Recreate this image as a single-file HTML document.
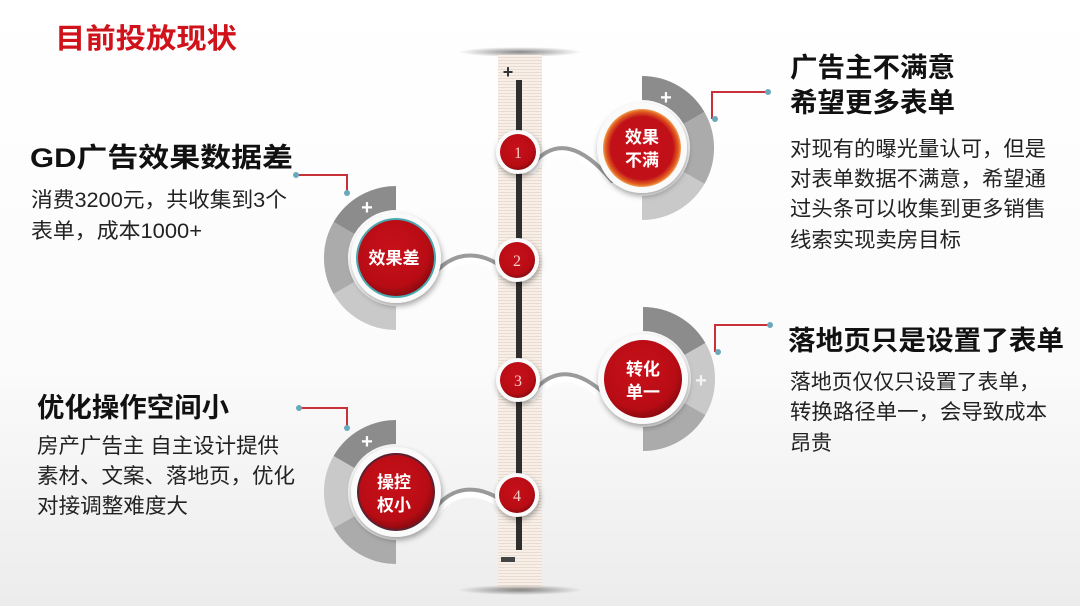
<!DOCTYPE html>
<html><head><meta charset="utf-8"><style>
html,body{margin:0;padding:0;width:1080px;height:606px;overflow:hidden;}
svg{display:block;font-family:"Liberation Sans","Noto Sans CJK SC",sans-serif;}
</style></head><body>
<svg width="1080" height="606" viewBox="0 0 1080 606" xmlns="http://www.w3.org/2000/svg">
<defs>
<linearGradient id="bg" x1="0" y1="0" x2="0" y2="1">
<stop offset="0" stop-color="#ffffff"/><stop offset="0.6" stop-color="#fbfbfb"/><stop offset="1" stop-color="#ececec"/>
</linearGradient>
<pattern id="stripe" width="4" height="3" patternUnits="userSpaceOnUse">
<rect width="4" height="3" fill="#f7efe8"/><rect width="4" height="1" fill="#e9ddd2"/>
</pattern>
<radialGradient id="red" cx="0.45" cy="0.4" r="0.6">
<stop offset="0" stop-color="#c8101a"/><stop offset="0.8" stop-color="#b80c14"/><stop offset="1" stop-color="#8e0a10"/>
</radialGradient>
<radialGradient id="redO" cx="0.5" cy="0.5" r="0.5">
<stop offset="0" stop-color="#c8101a"/><stop offset="0.8" stop-color="#c01018"/><stop offset="0.93" stop-color="#e05a20"/><stop offset="1" stop-color="#f0a050"/>
</radialGradient>
<radialGradient id="sh" cx="0.5" cy="0.5" r="0.5">
<stop offset="0" stop-color="#555" stop-opacity="0.7"/><stop offset="1" stop-color="#555" stop-opacity="0"/>
</radialGradient>
<filter id="ds" x="-30%" y="-30%" width="160%" height="160%"><feDropShadow dx="1" dy="3" stdDeviation="3" flood-color="#000" flood-opacity="0.35"/></filter>
</defs>
<rect width="1080" height="606" fill="url(#bg)"/>

<text x="55" y="48" font-size="28" font-weight="bold" fill="#d0121b" textLength="182" lengthAdjust="spacingAndGlyphs">目前投放现状</text>

<!-- bar -->
<ellipse cx="520" cy="52" rx="62" ry="5" fill="url(#sh)"/>
<rect x="498" y="55" width="44" height="535" fill="url(#stripe)"/>
<ellipse cx="520" cy="590" rx="62" ry="5" fill="url(#sh)"/>
<rect x="516" y="80" width="6" height="470" fill="#2e2e2e"/>
<text x="508" y="78" font-size="18" font-weight="bold" fill="#333" text-anchor="middle">+</text>
<rect x="501" y="557" width="14" height="5" fill="#444"/>

<!-- connectors -->
<g fill="none" stroke-linecap="round">
<g stroke="#fff" stroke-width="10">
<path d="M532 168 C555 140,582 148,612 184"/>
<path d="M425 290 C448 250,482 252,507 274"/>
<path d="M532 396 C556 366,584 374,614 406"/>
<path d="M428 522 C450 483,482 488,507 507"/>
</g>
<g stroke="#9a9a9a" stroke-width="4">
<path d="M532 165 C555 137,582 145,612 181"/>
<path d="M425 287 C448 247,482 249,507 271"/>
<path d="M532 393 C556 363,584 371,614 403"/>
<path d="M428 519 C450 480,482 485,507 504"/>
</g>
</g>

<!-- rings -->
<g fill="none" stroke-width="24">
<path d="M642 88 A60 60 0 0 1 694 118" stroke="#8c8c8c"/>
<path d="M694 118 A60 60 0 0 1 694 178" stroke="#ababab"/>
<path d="M694 178 A60 60 0 0 1 642 208" stroke="#c9c9c9"/>
<path d="M396 318 A60 60 0 0 1 344 288" stroke="#c9c9c9"/>
<path d="M344 288 A60 60 0 0 1 344 228" stroke="#ababab"/>
<path d="M344 228 A60 60 0 0 1 396 198" stroke="#8c8c8c"/>
<path d="M643 319 A60 60 0 0 1 695 349" stroke="#8c8c8c"/>
<path d="M695 349 A60 60 0 0 1 695 409" stroke="#c9c9c9"/>
<path d="M695 409 A60 60 0 0 1 643 439" stroke="#ababab"/>
<path d="M396 552 A60 60 0 0 1 344 522" stroke="#ababab"/>
<path d="M344 522 A60 60 0 0 1 344 462" stroke="#c9c9c9"/>
<path d="M344 462 A60 60 0 0 1 396 432" stroke="#8c8c8c"/>
</g>
<g fill="#fff" font-size="20" font-weight="bold" text-anchor="middle">
<text x="666" y="104">+</text>
<text x="367" y="214">+</text>
<text x="701" y="387" fill="#f4f4f4">+</text>
<text x="367" y="448">+</text>
</g>

<!-- big circles -->
<g filter="url(#ds)">
<circle cx="642" cy="148" r="45" fill="#fafafa"/>
<circle cx="396" cy="258" r="45" fill="#fafafa"/>
<circle cx="643" cy="379" r="45" fill="#fafafa"/>
<circle cx="396" cy="492" r="45" fill="#fafafa"/>
</g>
<circle cx="642" cy="148" r="39" fill="url(#redO)"/>
<circle cx="396" cy="258" r="40" fill="#4aa8b0"/>
<circle cx="396" cy="258" r="38" fill="url(#red)"/>
<circle cx="643" cy="379" r="39" fill="url(#red)"/>
<circle cx="396" cy="492" r="39" fill="#5a2030"/>
<circle cx="396" cy="492" r="37" fill="url(#red)"/>
<g fill="#fff" font-size="17" font-weight="bold" text-anchor="middle">
<text x="642" y="143">效果</text><text x="642" y="166">不满</text>
<text x="394" y="264">效果差</text>
<text x="643" y="375">转化</text><text x="643" y="398">单一</text>
<text x="394" y="488">操控</text><text x="394" y="511">权小</text>
</g>

<!-- small circles -->
<g filter="url(#ds)">
<circle cx="518" cy="152" r="22" fill="#fafafa"/>
<circle cx="517" cy="260" r="22" fill="#fafafa"/>
<circle cx="518" cy="380" r="22" fill="#fafafa"/>
<circle cx="517" cy="495" r="22" fill="#fafafa"/>
</g>
<g fill="url(#red)">
<circle cx="518" cy="152" r="18"/><circle cx="517" cy="260" r="18"/>
<circle cx="518" cy="380" r="18"/><circle cx="517" cy="495" r="18"/>
</g>
<g fill="#f3d0c8" font-size="16" text-anchor="middle" font-family="Liberation Serif,serif">
<text x="518" y="158">1</text><text x="517" y="266">2</text>
<text x="518" y="386">3</text><text x="517" y="501">4</text>
</g>

<!-- brackets -->
<g fill="none" stroke="#c8303a" stroke-width="2">
<path d="M296 175 H347 V193"/>
<path d="M299 408 H347 V428"/>
<path d="M768 92 H712 V119"/>
<path d="M770 325 H715 V352"/>
</g>
<g fill="#6aa8bc">
<circle cx="296" cy="175" r="3"/><circle cx="347" cy="193" r="3"/>
<circle cx="299" cy="408" r="3"/><circle cx="347" cy="428" r="3"/>
<circle cx="768" cy="92" r="3"/><circle cx="715" cy="119" r="3"/>
<circle cx="770" cy="325" r="3"/><circle cx="718" cy="352" r="3"/>
</g>

<!-- texts -->
<g fill="#111" font-weight="bold" font-size="27" lengthAdjust="spacingAndGlyphs">
<text x="30" y="167" textLength="263" lengthAdjust="spacingAndGlyphs">GD广告效果数据差</text>
<text x="37" y="417" textLength="192" lengthAdjust="spacingAndGlyphs">优化操作空间小</text>
<text x="790" y="77" textLength="165" lengthAdjust="spacingAndGlyphs">广告主不满意</text>
<text x="790" y="112" textLength="165" lengthAdjust="spacingAndGlyphs">希望更多表单</text>
<text x="788" y="350" textLength="276" lengthAdjust="spacingAndGlyphs">落地页只是设置了表单</text>
</g>
<g fill="#222" font-size="21">
<text x="31" y="207" textLength="256" lengthAdjust="spacingAndGlyphs">消费3200元，共收集到3个</text>
<text x="31" y="238" textLength="171" lengthAdjust="spacingAndGlyphs">表单，成本1000+</text>
<text x="37" y="453" textLength="242" lengthAdjust="spacingAndGlyphs">房产广告主 自主设计提供</text>
<text x="37" y="483" textLength="258" lengthAdjust="spacingAndGlyphs">素材、文案、落地页，优化</text>
<text x="37" y="513" textLength="151" lengthAdjust="spacingAndGlyphs">对接调整难度大</text>
<text x="790" y="156" textLength="256" lengthAdjust="spacingAndGlyphs">对现有的曝光量认可，但是</text>
<text x="790" y="186" textLength="256" lengthAdjust="spacingAndGlyphs">对表单数据不满意，希望通</text>
<text x="790" y="216" textLength="256" lengthAdjust="spacingAndGlyphs">过头条可以收集到更多销售</text>
<text x="790" y="247" textLength="171" lengthAdjust="spacingAndGlyphs">线索实现卖房目标</text>
<text x="790" y="389" textLength="250" lengthAdjust="spacingAndGlyphs">落地页仅仅只设置了表单，</text>
<text x="790" y="419" textLength="257" lengthAdjust="spacingAndGlyphs">转换路径单一，会导致成本</text>
<text x="790" y="450" textLength="42" lengthAdjust="spacingAndGlyphs">昂贵</text>
</g>
</svg>
</body></html>
